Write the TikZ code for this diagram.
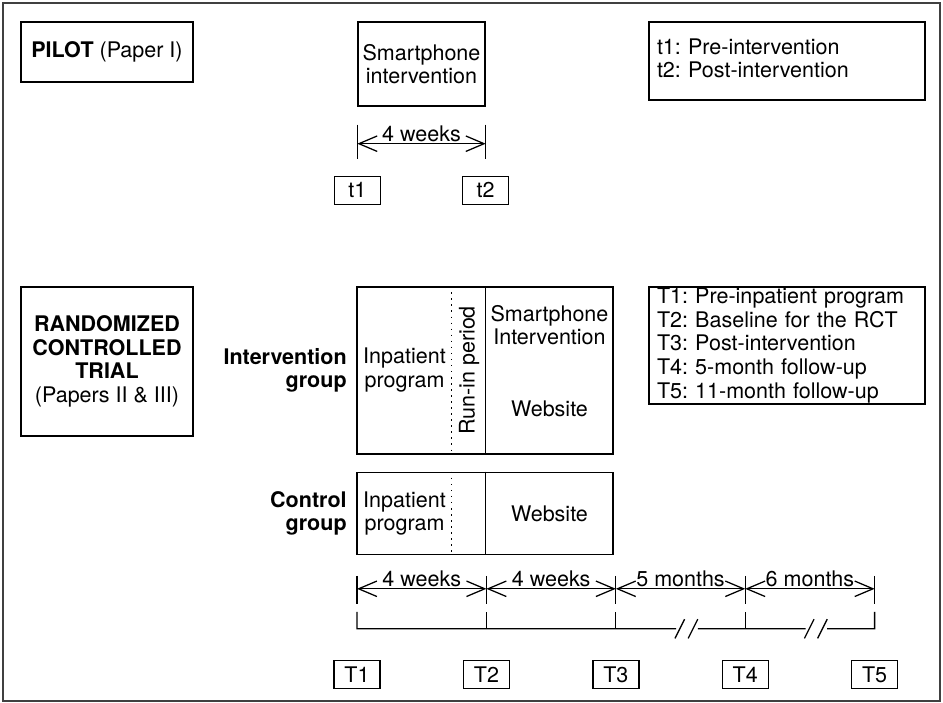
\documentclass[tikz,border=0pt]{standalone}
\usepackage{fontspec}
\setmainfont{TeX Gyre Heros}
\usetikzlibrary{positioning, calc, arrows.meta}
\frenchspacing

\begin{document}
\begin{tikzpicture}[every node/.style={font=\fontsize{15.3}{16.8}\selectfont, align=center}, line width=0.9pt]
    \tikzstyle{box} = [draw, rectangle, line width=1pt, inner sep=0];
    \tikzstyle{tbox} = [draw, rectangle, line width=1pt, minimum width=1.15cm, minimum height=0.7cm, inner sep=0];
    \tikzstyle{arr} = [{Straight Barb[length=13pt, width=11pt]}-{Straight Barb[length=13pt, width=11pt]}];
    \tikzstyle{lbl} = [above, inner sep=1.2pt];
    \tikzstyle{grp} = [align=right, inner sep=0, font=\fontsize{15.3}{16.8}\selectfont\bfseries];
    \tikzstyle{runin} = [line width=1.1pt, dash pattern=on 1.1pt off 3.2pt];

    \useasboundingbox (0, 0) rectangle (23.575, 17.575);
    \draw[line width=1pt, black!75] (0.075, 0.05) rectangle (23.5, 17.5);

    \node[box, minimum width=4.3cm, minimum height=1.5cm] at (2.675, 16.275) (pilot) {\textbf{PILOT} (Paper I)};
    \node[box, minimum width=3.175cm, minimum height=2.1cm] at (10.5375, 15.975) (sp) {Smartphone\\intervention};
    \node[box, minimum width=6.9cm, minimum height=1.95cm, text width=6.5cm, align=left] at (19.675, 16.05) (tkey) {t1: Pre-intervention\\t2: Post-intervention\vspace{4pt}};

    \coordinate[below = 0.925 of sp.south west] (w1);
    \coordinate[below = 0.925 of sp.south east] (w2);
    \draw (w1) ++(0, 0.475) -- ++(0, -0.85);
    \draw (w2) ++(0, 0.475) -- ++(0, -0.85);
    \draw[arr] (w1) -- node[lbl] {4 weeks} (w2);

    \node[tbox, below = 0.8 of w1] (t1) {t1};
    \node[tbox, below = 0.8 of w2] (t2) {t2};

    \node[box, minimum width=4.3cm, minimum height=3.725cm] at (2.675, 8.5375) (rct) {\textbf{RANDOMIZED}\\\textbf{CONTROLLED}\\\textbf{TRIAL}\\(Papers II \& III)};

    \node[box, minimum width=6.4cm, minimum height=4.175cm] at (12.125, 8.3125) (ig) {};
    \draw[runin] (ig.north west) ++(2.375, 0) -- ++(0, -4.175);
    \draw[line width=1pt] (ig.north west) ++(3.225, 0) -- ++(0, -4.175);
    \node at (10.1125, 8.325) (igin) {Inpatient\\program};
    \node[rotate=90] at (11.725, 8.3125) (igrun) {Run-in period};
    \node at (13.7375, 9.45) (igsp) {Smartphone\\Intervention};
    \node at (13.7375, 7.35) (igweb) {Website};
    \node[grp, left = 0.225 of ig] (iglbl) {Intervention\\group};

    \node[box, minimum width=6.4cm, minimum height=2.05cm, below = 0.425 of ig] (cg) {};
    \draw[runin] (cg.north west) ++(2.375, 0) -- ++(0, -2.05);
    \draw[line width=1pt] (cg.north west) ++(3.225, 0) -- ++(0, -2.05);
    \node at (cg -| igin) (cgin) {Inpatient\\program};
    \node at (cg -| igweb) (cgweb) {Website};
    \node[grp, left = 0.225 of cg] (cglbl) {Control\\group};

    \node[box, minimum width=6.9cm, minimum height=2.925cm, text width=6.5cm, align=left] at (19.675, 8.9375) (Tkey) {T1: Pre-inpatient program\\T2: Baseline for the RCT\\T3: Post-intervention\\T4: 5-month follow-up\\T5: 11-month follow-up};

    \node[tbox] at (8.925, 0.7125) (T1) {T1};
    \node[tbox, right = 2.05 of T1] (T2) {T2};
    \node[tbox, right = 2.05 of T2] (T3) {T3};
    \node[tbox, right = 2.05 of T3] (T4) {T4};
    \node[tbox, right = 2.05 of T4] (T5) {T5};

    \coordinate[above = 1.775 of T1.north] (a1);
    \coordinate[above = 1.775 of T2.north] (a2);
    \coordinate[above = 1.775 of T3.north] (a3);
    \coordinate[above = 1.775 of T4.north] (a4);
    \coordinate[above = 1.775 of T5.north] (a5);

    \draw (a1) ++(0, 0.325) -- ++(0, -0.7);
    \draw (a2) ++(0, 0.325) -- ++(0, -0.7);
    \draw (a3) ++(0, 0.325) -- ++(0, -0.7);
    \draw (a4) ++(0, 0.325) -- ++(0, -0.7);
    \draw (a5) ++(0, 0.325) -- ++(0, -0.7);

    \draw[arr] (a1) -- node[lbl] {4 weeks} (a2);
    \draw[arr] (a2) -- node[lbl] {4 weeks} (a3);
    \draw[arr] (a3) -- node[lbl] {5 months} (a4);
    \draw[arr] (a4) -- node[lbl] {6 months} (a5);

    \coordinate[above = 0.775 of T1.north] (b1);
    \coordinate[above = 0.775 of T2.north] (b2);
    \coordinate[above = 0.775 of T3.north] (b3);
    \coordinate[above = 0.775 of T4.north] (b4);
    \coordinate[above = 0.775 of T5.north] (b5);
    \coordinate (k1) at ($(b3)!0.55!(b4)$);
    \coordinate (k2) at ($(b4)!0.55!(b5)$);

    \draw (b1) ++(0, 0.425) -- (b1) -- (b3) -- ([xshift=-0.27cm]k1);
    \draw ([xshift=0.27cm]k1) -- (b4) -- ([xshift=-0.27cm]k2);
    \draw ([xshift=0.27cm]k2) -- (b5) -- ++(0, 0.425);
    \draw (b2) -- ++(0, 0.425);
    \draw (b3) -- ++(0, 0.425);
    \draw (b4) -- ++(0, 0.425);

    \draw (k1) ++(-0.3, -0.24) -- ++(0.24, 0.48);
    \draw (k1) ++(0.03, -0.24) -- ++(0.24, 0.48);
    \draw (k2) ++(-0.3, -0.24) -- ++(0.24, 0.48);
    \draw (k2) ++(0.03, -0.24) -- ++(0.24, 0.48);
\end{tikzpicture}
\end{document}
